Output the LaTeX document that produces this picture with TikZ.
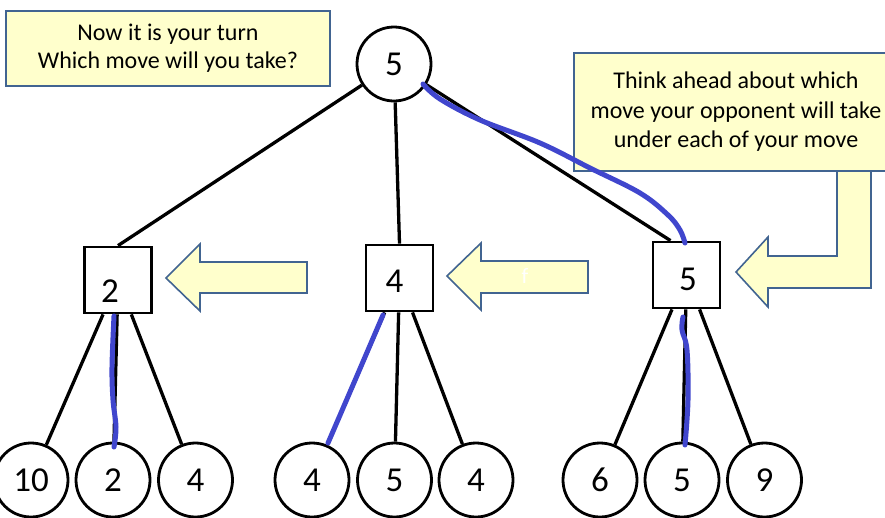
\documentclass[tikz,border=0pt]{standalone}
\usepackage{fontspec}
\setmainfont{Carlito}
\definecolor{notefill}{RGB}{255,255,204}
\definecolor{noteborder}{RGB}{65,100,145}
\definecolor{penblue}{RGB}{64,70,205}
\begin{document}
\begin{tikzpicture}[x=1pt,y=-1pt,
  edge/.style={line width=3.3pt, black},
  pen/.style={line width=5pt, penblue, line cap=round, line join=round},
  circ/.style={circle, draw, line width=2.8pt, minimum size=74pt, inner sep=0pt, fill=white, font=\fontsize{35}{40}\selectfont},
  sq/.style={draw, line width=2.8pt, minimum width=67pt, minimum height=66pt, inner sep=0pt, fill=white},
  sqlabel/.style={font=\fontsize{35}{40}\selectfont, inner sep=0pt},
  note/.style={draw=noteborder, fill=notefill, line width=1.6pt, align=center, inner sep=0pt},
  bigarrow/.style={draw=noteborder, fill=notefill, line width=1.6pt, line join=miter}
]
\useasboundingbox (0,0) rectangle (885,517);

% yellow arrows
\draw[bigarrow] (166,278) -- (200,244) -- (200,262) -- (307,262) -- (307,293) -- (200,293) -- (200,311) -- cycle;
\draw[bigarrow] (447,276) -- (481,243) -- (481,261) -- (588,261) -- (588,293) -- (481,293) -- (481,310) -- cycle;
\draw[bigarrow] (837,168) -- (871,168) -- (871,288) -- (768,288) -- (768,307) -- (736,272) -- (768,237) -- (768,256) -- (837,256) -- cycle;
\node[text=white, font=\fontsize{22}{24}\selectfont, inner sep=0pt] (fmark) at (525,276) {f};

% notes
\node[note, minimum width=324pt, minimum height=75pt, font=\fontsize{24}{28}\selectfont] (noteL) at (168,48.5)
  {Now it is your turn\\Which move will you take?};
\node[note, minimum width=324pt, minimum height=118pt, font=\fontsize{24}{29.5}\selectfont] (noteR) at (736,112)
  {Think ahead about which\\move your opponent will take\\under each of your move};

% tree nodes
\node[circ] (top) at (394,64) {5};
\node[sq, label={[sqlabel, shift={(-8,11)}]center:2}] (sqL) at (118,280) {};
\node[sq, label={[sqlabel, shift={(-5,3)}]center:4}] (sqM) at (399.5,278) {};
\node[sq, label={[sqlabel, shift={(1.5,4)}]center:5}] (sqR) at (686.5,275) {};

\node[circ] (l1) at (31,480) {10};
\node[circ] (l2) at (113,480) {2};
\node[circ] (l3) at (195.5,480) {4};
\node[circ] (l4) at (312,480) {4};
\node[circ] (l5) at (394.5,480) {5};
\node[circ] (l6) at (476,480) {4};
\node[circ] (l7) at (600,480) {6};
\node[circ] (l8) at (682,480) {5};
\node[circ] (l9) at (764.5,480) {9};

% edges
\draw[edge] (top) -- (sqL.north);
\draw[edge] (top) -- (sqM.north);
\draw[edge] (top) -- ([xshift=-16pt]sqR.north);
\foreach \l in {l1,l2,l3} \draw[edge] (sqL) -- (\l);
\foreach \l in {l4,l5,l6} \draw[edge] (sqM) -- (\l);
\foreach \l in {l7,l8,l9} \draw[edge] (sqR) -- (\l);

% hand-drawn blue strokes
\draw[pen] plot[smooth, tension=0.6] coordinates {(423,84) (440,99) (480,120) (540,143) (590,168) (640,193) (668,215) (680,230) (685,243)};
\draw[pen] plot[smooth, tension=0.6] coordinates {(114,316) (112,367) (113,400) (116,427) (114,447)};
\draw[pen] plot[smooth, tension=0.6] coordinates {(383,315) (356,378) (328,443)};
\draw[pen] plot[smooth, tension=0.6] coordinates {(683,317) (682,330) (687,350) (688,400) (685,445)};
\end{tikzpicture}
\end{document}
